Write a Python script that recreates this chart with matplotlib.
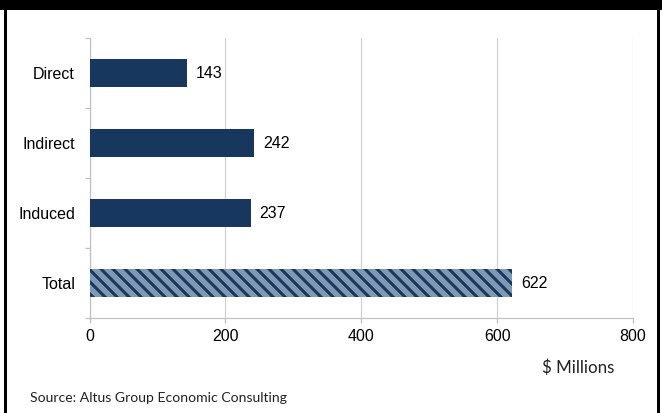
import matplotlib
matplotlib.use("Agg")
import matplotlib.pyplot as plt
from matplotlib.lines import Line2D
from matplotlib.patches import Rectangle

categories = ["Direct", "Indirect", "Induced", "Total"]
values = [143, 242, 237, 622]
x_ticks = [0, 200, 400, 600, 800]
x_label = "$ Millions"
source = "Source: Altus Group Economic Consulting"

DPI = 72
W, H = 662, 413
NAVY = "#17375e"
LIGHT = "#7f98b4"

plt.rcParams["font.family"] = ["Liberation Sans", "DejaVu Sans"]
plt.rcParams["hatch.linewidth"] = 3


def px(x, y):
    """Pixel position (from top-left) to figure fraction."""
    return x / W, 1 - y / H


fig = plt.figure(figsize=(W / DPI, H / DPI), dpi=DPI)
left, top = px(89.5, 38)
right, bottom = px(633, 318)
ax = fig.add_axes([left, bottom, right - left, top - bottom])

pos = list(range(len(categories)))
bars = ax.barh(pos, values, height=0.386, color=NAVY, linewidth=0, zorder=3)
# Total bar gets the striped fill
bars[-1].set_facecolor(LIGHT)
bars[-1].set_edgecolor(NAVY)
bars[-1].set_hatch("\\\\")

for p, v in zip(pos, values):
    ax.annotate(str(v), (v, p), xytext=(9, 0), textcoords="offset points",
                va="center", ha="left", fontsize=16, color="black")

ax.set_xlim(0, 800)
ax.set_ylim(len(categories) - 0.5, -0.5)
ax.set_xticks(x_ticks)
ax.set_xticklabels([str(t) for t in x_ticks])
ax.set_yticks(pos)
ax.set_yticklabels(categories)
ax.set_yticks([p + 0.5 for p in [-1] + pos], minor=True)

ax.grid(axis="x", color="#d0d0d0", linewidth=1.2, zorder=0)
for s in ["top", "right"]:
    ax.spines[s].set_visible(False)
for s in ["left", "bottom"]:
    ax.spines[s].set_color("#c0c0c0")
    ax.spines[s].set_linewidth(1.2)

ax.tick_params(axis="x", length=5, width=1.2, color="#c0c0c0", pad=6,
               labelsize=16, labelcolor="black")
ax.tick_params(axis="y", which="major", length=0, pad=14.5,
               labelsize=16, labelcolor="black")
ax.tick_params(axis="y", which="minor", length=5, width=1.2, color="#c0c0c0")

# black header band and frame sides
bx, by = px(0, 10)
fig.add_artist(Rectangle((0, by), 1, 1 - by, transform=fig.transFigure,
                         facecolor="black", edgecolor="none", zorder=5))
for xpos in (5, 658):
    fx, _ = px(xpos, 0)
    fig.add_artist(Line2D([fx, fx], [0, 1], transform=fig.transFigure,
                          color="black", linewidth=3, zorder=6))

lx, ly = px(578, 368)
fig.text(lx, ly, x_label, family=["Lato", "DejaVu Sans"], fontsize=17,
         ha="center", va="center", color="#222222")
sx, sy = px(30, 398)
fig.text(sx, sy, source, family=["Lato", "DejaVu Sans"], fontsize=14,
         ha="left", va="center", color="#222222")

fig.savefig("out.png", dpi=DPI)
